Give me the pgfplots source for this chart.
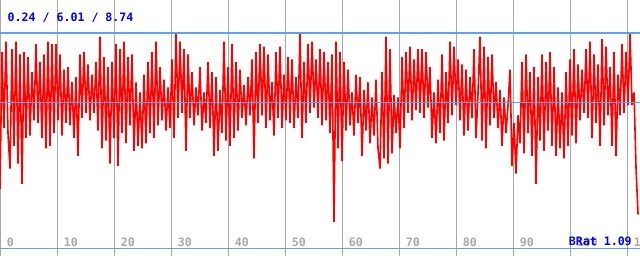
\documentclass[border=0pt]{standalone}
\usepackage{pgfplots}
\pgfplotsset{compat=1.18}
\usepackage{pgfplotstable}
\usepackage{fontspec}
\setmonofont{DejaVu Sans Mono}
\definecolor{redl}{RGB}{255,0,0}
\definecolor{bluel}{RGB}{95,160,240}
\definecolor{gridg}{RGB}{168,168,168}
\definecolor{txtb}{RGB}{0,0,238}
\pgfplotstableread{
v
2.6
8.0
5.0
8.4
4.8
3.4
8.1
4.3
8.4
3.6
7.9
2.8
8.0
4.6
7.8
4.7
7.2
5.3
8.3
5.2
7.6
4.6
7.9
4.2
8.4
4.3
8.3
4.8
8.3
5.3
7.9
4.7
7.3
5.2
7.4
5.1
6.8
4.6
7.0
3.9
7.9
5.4
8.0
5.6
7.5
5.3
7.1
5.6
7.6
4.9
8.6
4.2
7.8
4.5
7.4
3.6
7.6
4.6
8.3
3.5
8.1
4.8
8.4
4.4
7.8
5.1
7.9
4.1
6.8
4.3
6.4
4.2
7.1
4.4
7.6
4.8
8.0
4.6
8.4
5.1
7.4
5.3
6.9
4.9
6.6
5.0
7.7
4.6
8.7
5.4
8.4
5.6
8.1
4.1
7.9
5.4
7.2
5.1
6.6
5.5
7.4
4.9
6.4
5.2
7.6
5.0
7.2
3.9
7.0
4.1
6.5
4.8
8.4
4.5
7.4
4.3
8.3
4.6
7.6
4.9
7.3
5.4
6.7
5.1
7.0
5.5
7.7
3.8
8.0
5.2
8.3
5.5
8.2
5.0
7.9
5.3
6.8
4.7
8.0
5.4
8.2
5.0
7.1
5.3
7.8
5.2
7.7
5.0
7.0
5.4
8.7
4.6
7.6
5.2
8.3
5.6
8.4
5.8
7.7
5.4
8.1
5.1
8.0
5.3
7.6
4.8
7.9
1.3
8.4
4.2
8.0
3.7
7.6
4.9
7.3
5.1
6.4
4.7
7.1
5.2
7.0
3.9
6.5
4.9
6.8
4.4
6.2
4.7
6.9
4.2
3.4
7.2
3.8
8.6
3.6
8.1
4.0
6.3
4.8
6.2
4.2
7.8
5.0
8.0
5.6
8.2
5.3
7.7
5.7
8.1
5.6
8.1
5.4
8.0
5.8
7.4
4.6
6.4
4.4
6.9
4.8
7.9
4.5
7.2
5.2
8.4
5.5
8.2
5.9
7.7
5.3
7.5
4.7
7.3
4.9
7.0
5.4
8.1
4.6
6.4
8.6
4.5
8.2
4.2
7.8
5.1
7.9
5.4
6.8
5.0
6.5
4.3
6.2
4.8
5.9
7.3
3.5
5.2
3.2
5.5
4.4
7.6
4.0
7.9
4.8
7.2
3.9
7.4
2.8
7.0
4.5
7.9
4.1
7.6
4.9
8.0
4.3
7.4
3.9
6.6
4.2
6.4
3.8
7.2
4.3
7.7
4.7
8.1
4.4
7.5
5.3
7.3
5.6
8.1
5.4
8.4
4.6
7.9
5.2
7.5
4.3
8.5
5.1
8.2
5.5
7.4
4.3
8.0
3.9
7.1
5.5
8.3
5.6
8.0
5.9
8.7
5.9
6.4
3.4
1.6
}\datatab
\begin{document}
\begin{tikzpicture}
\useasboundingbox (0,0) rectangle (480pt,192pt);
\begin{axis}[
  at={(0,0)}, anchor=south west,
  scale only axis, width=480pt, height=192pt,
  xmin=0, xmax=112.28, ymin=-0.04, ymax=10.04,
  axis line style={draw=none},
  tick style={draw=none},
  xtick={0,10,20,30,40,50,60,70,80,90,100,110},
  xticklabels={0,10,20,30,40,50,60,70,80,90,100,110},
  ytick=\empty,
  xmajorgrids,
  major grid style={draw=gridg, line width=0.75pt},
  xticklabel style={anchor=base west, inner sep=0pt, xshift=4.9pt, yshift=7.4pt, text=gridg, font=\ttfamily\bfseries\fontsize{8.7}{10}\selectfont},
  clip=true,
]
\addplot[redl, line width=1.2pt, line join=bevel, no marks] table[x expr=\coordindex*0.3509, y=v] {\datatab};
\addplot[bluel, line width=0.8pt, no marks] coordinates {(0,8.74) (112.28,8.74)};
\addplot[bluel, line width=0.8pt, no marks] coordinates {(0,6.01) (112.28,6.01)};
\addplot[bluel, line width=0.8pt, no marks] coordinates {(0,0.24) (112.28,0.24)};
\end{axis}
\node[anchor=base west, inner sep=0pt, text=txtb, font=\ttfamily\bfseries\fontsize{8.7}{10}\selectfont] at (5.6pt,175.8pt) {0.24 / 6.01 / 8.74};
\node[anchor=base east, inner sep=0pt, text=txtb, font=\ttfamily\bfseries\fontsize{8.7}{10}\selectfont] at (474pt,7.6pt) {BRat 1.09};
\end{tikzpicture}
\end{document}
